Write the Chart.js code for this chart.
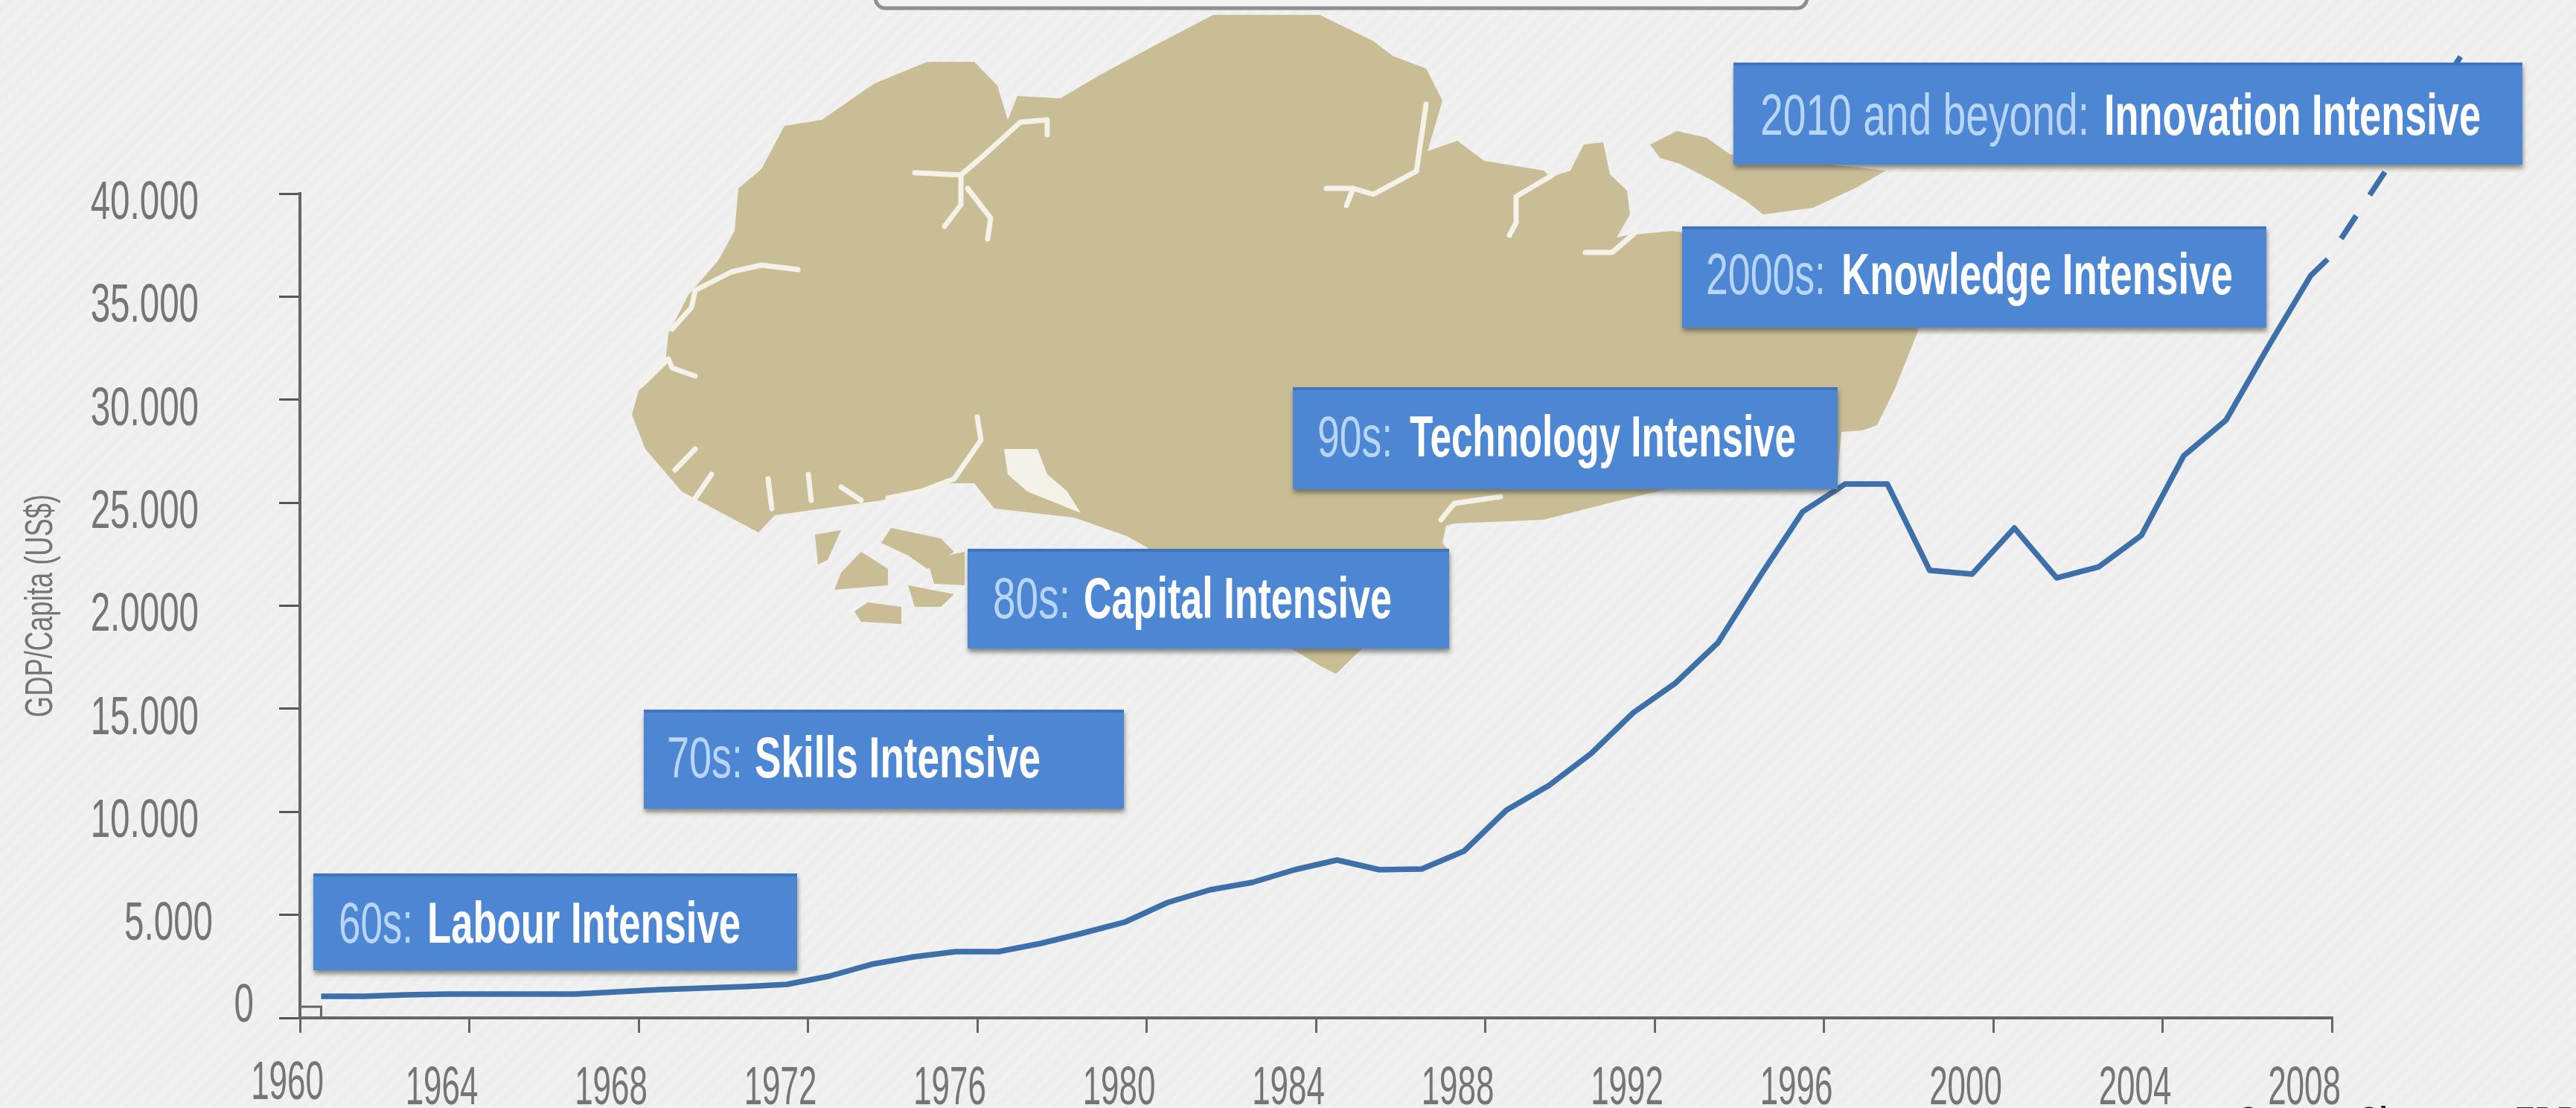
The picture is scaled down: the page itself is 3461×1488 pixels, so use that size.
<!DOCTYPE html>
<html><head><meta charset="utf-8">
<style>
html,body{margin:0;padding:0;width:3461px;height:1488px;overflow:hidden;background:#efefef;}
body{background-image:repeating-linear-gradient(135deg,rgba(255,255,255,.12) 0 6px,rgba(0,0,0,.004) 6px 14px);}
canvas{display:block;}
</style>
<script src="https://cdn.jsdelivr.net/npm/chart.js@4"></script>
</head><body>
<canvas id="c" width="3461" height="1488"></canvas>
<script>
// ---------- chart data ----------
const years = [1960.5,1961.5,1962.5,1963.5,1964.5,1965.5,1966.5,1967.5,1968.5,1969.5,1970.5,1971.5,1972.5,1973.5,1974.5,1975.5,1976.5,1977.5,1978.5,1979.5,1980.5,1981.5,1982.5,1983.5,1984.5,1985.5,1986.5,1987.5,1988.5,1989.5,1990.5,1991.5,1992.5,1993.5,1994.5,1995.5,1996.5,1997.5,1998.5,1999.5,2000.5,2001.5,2002.5,2003.5,2004.5,2005.5,2006.5,2007.5,2007.9];
const gdpPerCapita = [1048,1048,1120,1156,1156,1156,1156,1265,1373,1445,1517,1626,2023,2600,2963,3216,3216,3613,4119,4661,5600,6214,6576,7190,7660,7190,7226,8093,10080,11273,12826,14813,16258,18210,21461,24568,25905,25905,21714,21533,23774,21353,21895,23412,27278,29012,32589,36022,36817];
const projectionYears = [2007.9,2011.04];
const projectionValues = [36817,46644];
const yTickLabels = ['0','5.000','10.000','15.000','2.0000','25.000','30.000','35.000','40.000'];
const yAxisTitle = 'GDP/Capita (US$)';
const sourceLead = 'Source: Singapore ';
const sourceTail = 'EDB';
const eraPrefixes = ['60s:','70s:','80s:','90s:','2000s:','2010 and beyond:'];
const eraNames = ['Labour Intensive','Skills Intensive','Capital Intensive','Technology Intensive','Knowledge Intensive','Innovation Intensive'];

// ---------- layout of annotation boxes [x0,y0,x1,y1, prefix x0,x1, name x0,x1, baseline] ----------
const eraLayout = [
 [421,1173,1071,1303, 455,555, 574,995, 1266],
 [865,953,1510,1086, 896,998, 1014,1398, 1044],
 [1300,737,1947,871, 1334,1438, 1456,1870, 830],
 [1737,520,2469,657, 1770,1871, 1894,2413, 613],
 [2260,304,3045,440, 2292,2453, 2474,3000, 395],
 [2329,84,3389,221, 2365,2807, 2827,3333, 181]
];
// ---------- decorative island ----------
const LAND='#c8bd95', CHANNEL='#f4f1e9';
const mainland=[[849,557],[858,525],[894,488],[898,448],[925,396],[965,350],[987,310],[992,253],[1023,227],[1054,169],[1104,161],[1175,112],[1246,83],[1309,83],[1340,115],[1354,161],[1367,129],[1425,132],[1479,100],[1559,57],[1630,20],[1773,20],[1845,55],[1871,75],[1916,92],[1938,135],[1918,203],[1958,189],[1994,216],[2074,229],[2083,238],[2110,229],[2128,194],[2154,191],[2163,234],[2186,256],[2190,288],[2172,319],[2186,316],[2248,310],[2400,340],[2578,442],[2562,482],[2546,522],[2522,571],[2502,578],[2474,580],[2469,640],[2244,656],[2168,674],[2074,698],[1954,703],[1943,706],[1938,729],[1947,740],[1900,800],[1830,871],[1795,905],[1775,895],[1735,871],[1600,800],[1541,735],[1514,720],[1443,695],[1336,683],[1309,649],[1273,649],[1184,672],[1041,692],[1019,715],[970,689],[916,660],[867,603]];
const islets=[
 [[2217,194],[2253,176],[2293,185],[2324,207],[2534,229],[2494,252],[2436,279],[2369,288],[2346,270],[2302,243],[2257,220],[2230,212]],
 [[1095,718],[1130,712],[1112,752],[1099,758]],
 [[1197,709],[1264,723],[1282,741],[1246,764],[1220,746],[1184,729]],
 [[1157,741],[1193,764],[1193,786],[1121,792],[1130,769]],
 [[1220,786],[1282,798],[1264,815],[1229,815]],
 [[1148,821],[1166,809],[1211,815],[1211,838],[1157,835]],
 [[1246,752],[1296,741],[1296,786],[1255,784]]
];
const channels=[
 [[1229,232],[1291,235],[1318,212],[1371,164],[1407,161],[1407,181]],
 [[1291,235],[1291,275],[1269,304]],
 [[1300,253],[1331,293],[1327,321]],
 [[1916,140],[1903,230],[1845,261],[1818,253],[1782,253]],[[1818,253],[1809,276]],
 [[2086,235],[2037,264],[2037,299],[2028,316]],
 [[2200,310],[2166,339],[2130,339]],
 [[1072,362],[1023,356],[983,365],[934,390],[929,413],[903,442]],
 [[934,505],[903,494],[898,482],[862,517]],
 [[1313,560],[1318,591],[1282,643],[1237,660],[1193,669]],
 [[934,603],[907,631]],[[956,637],[934,669]],[[1032,643],[1037,683]],[[1086,637],[1090,672]],[[1130,654],[1157,672]],
 [[1936,698],[1954,676],[2016,667]]
];
const lagoon=[[1349,603],[1394,603],[1407,637],[1434,660],[1452,689],[1380,660],[1354,637]];

function poly(ctx,pts){ctx.beginPath();pts.forEach((p,i)=>i?ctx.lineTo(p[0],p[1]):ctx.moveTo(p[0],p[1]));}

const canvas=document.getElementById('c');
const ctx=canvas.getContext('2d');
// condensed display lettering: text is squeezed horizontally about its anchor
let squeeze=null;
const rawFill=ctx.fillText.bind(ctx);
ctx.fillText=function(t,x,y){
  const s = squeeze!==null ? squeeze : (t===yAxisTitle ? 0.70 : (yTickLabels.includes(t) ? 0.66 : 0.61));
  ctx.save();ctx.translate(x,y);ctx.scale(s,1);rawFill(t,0,0);ctx.restore();
};

const SANS='"Liberation Sans",Arial,sans-serif';
const labelShift={ '0':[74,-29], '5.000':[19,0] };   // per-label offset of the y axis labels
const decor={
 id:'decor',
 afterLayout(chart){
  chart.scales.y.getLabelItems().forEach(it=>{
    const n=labelShift[it.label]||[0,0];
    it.options.translation[0]+=n[0]-100;
    it.options.translation[1]+=14+n[1];
  });
  const first=chart.scales.x.getLabelItems()[0];
  if(first){first.options.translation[0]+=20;first.options.translation[1]-=7;}
 },
 beforeDatasetsDraw(chart){
  const c=chart.ctx;
  c.save();
  c.fillStyle=LAND;
  poly(c,mainland);c.closePath();c.fill();
  islets.forEach(p=>{poly(c,p);c.closePath();c.fill();});
  c.strokeStyle=CHANNEL;c.lineWidth=7;c.lineJoin='round';c.lineCap='round';
  channels.forEach(p=>{poly(c,p);c.stroke();});
  c.fillStyle=CHANNEL;poly(c,lagoon);c.closePath();c.fill();
  // top panel, cropped by the page edge
  c.fillStyle='#f3f3f3';c.strokeStyle='#8f8f8f';c.lineWidth=5;
  c.beginPath();c.roundRect(1176,-40,1252,51,14);c.fill();c.stroke();
  c.restore();
 },
 afterDatasetsDraw(chart){
  const c=chart.ctx, xs=chart.scales.x, ys=chart.scales.y;
  c.save();
  // small marker at the first data year on the origin
  c.strokeStyle='#666';c.lineWidth=3;
  c.strokeRect(xs.left,ys.bottom-15,xs.getPixelForValue(1960.5)-xs.left,15);
  eraLayout.forEach((b,i)=>{
    c.save();
    c.shadowColor='rgba(70,70,60,.6)';c.shadowBlur=6;c.shadowOffsetX=1;c.shadowOffsetY=5;
    c.fillStyle='#4d86d3';c.fillRect(b[0],b[1],b[2]-b[0],b[3]-b[1]);
    c.restore();
    c.fillStyle='#3f74be';c.fillRect(b[0],b[1],b[2]-b[0],4);
    c.textAlign='left';c.textBaseline='alphabetic';
    c.font='78px '+SANS;c.fillStyle='#b7d5f6';
    squeeze=(b[5]-b[4])/c.measureText(eraPrefixes[i]).width;
    c.fillText(eraPrefixes[i],b[4],b[8]);
    c.font='bold 78px '+SANS;c.fillStyle='#ffffff';
    squeeze=(b[7]-b[6])/c.measureText(eraNames[i]).width;
    c.fillText(eraNames[i],b[6],b[8]);
  });
  // source line, cut off by the bottom edge of the page
  c.font='bold 62px '+SANS;c.fillStyle='#222';c.textAlign='left';c.textBaseline='alphabetic';
  squeeze=372/c.measureText(sourceLead).width;
  c.fillText(sourceLead+sourceTail,3007,1529);
  squeeze=null;
  c.restore();
 }
};

new Chart(ctx,{
 type:'line',
 plugins:[decor],
 data:{datasets:[
  {data:years.map((x,i)=>({x,y:gdpPerCapita[i]})),borderColor:'#3d6fa9',borderWidth:7.5,pointRadius:0,tension:0,clip:false,borderJoinStyle:'round'},
  {data:projectionYears.map((x,i)=>({x,y:projectionValues[i]})),borderColor:'#3d6fa9',borderWidth:7.5,pointRadius:0,tension:0,clip:false,borderDash:[37,33],borderDashOffset:37}
 ]},
 options:{
  responsive:false,animation:false,devicePixelRatio:1,
  layout:{padding:{left:0,top:260,right:328,bottom:0}},
  plugins:{legend:{display:false},tooltip:{enabled:false},title:{display:false}},
  scales:{
   x:{type:'linear',min:1960,max:2008,
      afterFit(s){s.height=121;},
      border:{color:'#666',width:4},
      grid:{drawOnChartArea:false,color:'#666',lineWidth:3,tickLength:20},
      ticks:{stepSize:4,maxRotation:0,autoSkip:false,color:'#757575',padding:33,labelOffset:-37,align:'center',
             font:{family:SANS,size:72},callback:v=>String(v)}},
   y:{min:0,max:40000,
      afterFit(s){s.width=403;},
      border:{color:'#666',width:4},
      grid:{drawOnChartArea:false,color:'#555',lineWidth:3,tickLength:28},
      ticks:{stepSize:5000,color:'#757575',padding:8,autoSkip:false,
             font:{family:SANS,size:72},callback:(v,i)=>yTickLabels[i]},
      title:{display:true,text:yAxisTitle,color:'#757575',font:{family:SANS,size:52},padding:{top:24,bottom:0}}}
  }
 }
});
</script>
</body></html>
